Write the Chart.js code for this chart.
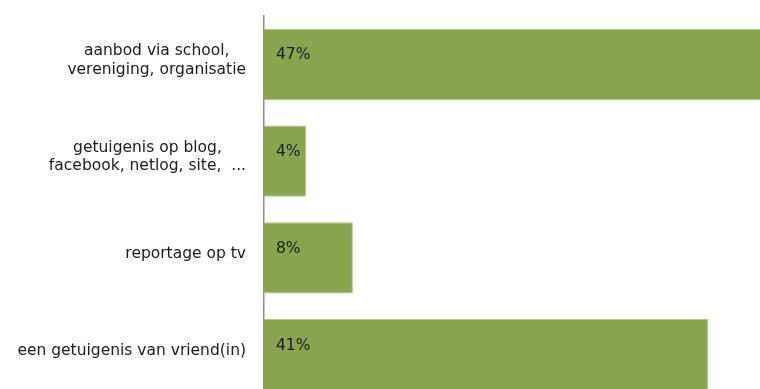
<!DOCTYPE html>
<html>
<head>
<meta charset="utf-8">
<script src="https://cdn.jsdelivr.net/npm/chart.js@4/dist/chart.umd.min.js"></script>
<style>
  html, body { margin: 0; padding: 0; background: #fff; overflow: hidden; }
  #wrap { width: 806px; height: 404px; }
</style>
</head>
<body>
<div id="wrap"><canvas id="c" width="806" height="404"></canvas></div>
<script>
const categories = [
  ["aanbod via school,", "vereniging, organisatie"],
  ["getuigenis op blog,", "facebook, netlog, site,  ..."],
  ["reportage op tv"],
  ["een getuigenis van vriend(in)"]
];
const values = [47, 3.9, 8.2, 41];
const valueLabels = ["47%", "4%", "8%", "41%"];

const FONT = '15.5px "DejaVu Sans", sans-serif';

const catLabels = {
  id: 'catLabels',
  afterDraw(chart) {
    const ctx = chart.ctx;
    const y = chart.scales.y;
    const rightEdge = y.right - 18;
    const lineH = 18.5;
    ctx.save();
    ctx.font = FONT;
    ctx.fillStyle = '#1a1a1a';
    ctx.textAlign = 'center';
    ctx.textBaseline = 'middle';
    categories.forEach((lines, i) => {
      const cy = y.getPixelForTick(i) - 4;
      const w = Math.max(...lines.map(l => ctx.measureText(l).width));
      const cx = rightEdge - w / 2;
      const top = cy - (lines.length - 1) * lineH / 2;
      lines.forEach((l, j) => ctx.fillText(l, cx, top + j * lineH));
    });
    ctx.restore();
  }
};

const barLabels = {
  id: 'barLabels',
  afterDatasetsDraw(chart) {
    const ctx = chart.ctx;
    const meta = chart.getDatasetMeta(0);
    ctx.save();
    ctx.font = '15.5px "DejaVu Sans", sans-serif';
    ctx.fillStyle = '#1a1a1a';
    ctx.textAlign = 'left';
    ctx.textBaseline = 'middle';
    meta.data.forEach((bar, i) => {
      ctx.fillText(valueLabels[i], bar.base + 12, bar.y - 9);
    });
    ctx.restore();
  }
};

new Chart(document.getElementById('c'), {
  type: 'bar',
  data: {
    labels: categories.map(c => c.join(' ')),
    datasets: [{
      data: values,
      backgroundColor: '#8aa54f',
      borderColor: '#b0c58a',
      borderWidth: 1,
      borderSkipped: 'start',
      categoryPercentage: 1,
      barPercentage: 0.735
    }]
  },
  options: {
    indexAxis: 'y',
    responsive: false,
    animation: false,
    devicePixelRatio: 1,
    layout: { padding: { top: 16, bottom: 1, left: 0, right: 0 } },
    plugins: { legend: { display: false }, tooltip: { enabled: false } },
    scales: {
      x: { display: false, min: 0, max: 50 },
      y: {
        afterFit(scale) { scale.width = 264; scale.paddingTop = 0; scale.paddingBottom = 0; },
        grid: { display: false, drawTicks: false },
        border: { display: true, color: '#8c8c8c', width: 1.5 },
        ticks: { display: false }
      }
    }
  },
  plugins: [barLabels, catLabels]
});
</script>
</body>
</html>
